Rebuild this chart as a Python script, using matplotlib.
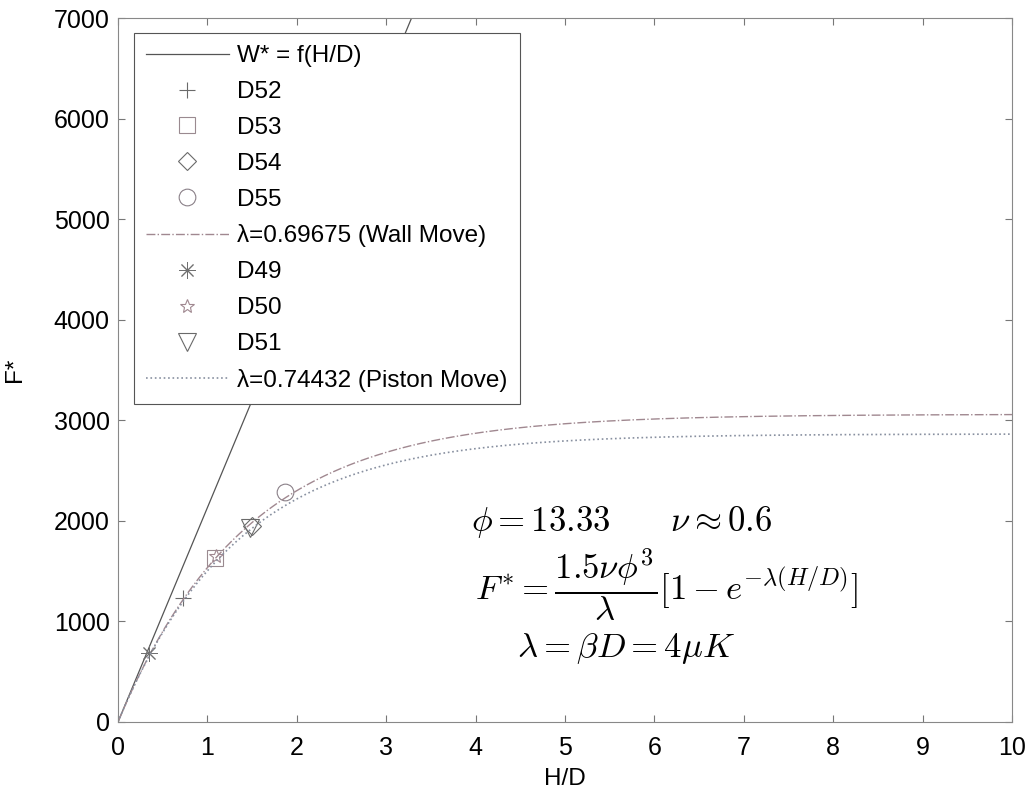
import numpy as np
import matplotlib.pyplot as plt

plt.rcParams['font.family'] = ['Liberation Sans', 'DejaVu Sans']
plt.rcParams['mathtext.fontset'] = 'cm'

# model constants
phi = 13.33
nu = 0.6
lam_wall = 0.69675
lam_piston = 0.74432

# measured points (H/D, F*)
d52_x = [0.73]
d52_y = [1230]
d53_x = [1.09]
d53_y = [1635]
d54_x = [1.50]
d54_y = [1950]
d55_x = [1.87]
d55_y = [2290]
d49_x = [0.35]
d49_y = [690]
d50_x = [1.10]
d50_y = [1650]
d51_x = [1.48]
d51_y = [1925]

k = 1.5 * nu * phi ** 3
hd = np.linspace(0, 10, 400)
w_star = k * hd
f_wall = k / lam_wall * (1 - np.exp(-lam_wall * hd))
f_piston = k / lam_piston * (1 - np.exp(-lam_piston * hd))

fig = plt.figure(figsize=(10.27, 7.9), dpi=100)
ax = fig.add_axes([0.1149, 0.0861, 0.8705, 0.8911])

gray = '#6a6a6a'
ms = 12
ax.plot(hd, w_star, '-', color='#555555', lw=0.9, label='W* = f(H/D)')
ax.plot(d52_x, d52_y, '+', color=gray, ms=ms, mew=0.8, ls='none', label='D52')
ax.plot(d53_x, d53_y, 's', color='#9a8a90', mfc='none', ms=ms, mew=0.8, ls='none', label='D53')
ax.plot(d54_x, d54_y, 'D', color=gray, mfc='none', ms=ms * 0.8, mew=0.8, ls='none', label='D54')
ax.plot(d55_x, d55_y, 'o', color='#8a8088', mfc='none', ms=ms, mew=0.8, ls='none', label='D55')
ax.plot(hd, f_wall, '-.', color='#a08890', lw=1.0, label='λ=0.69675 (Wall Move)')
ax.plot(d49_x, d49_y, marker=(8, 2, 0), color='#707070', ms=ms, mew=0.7, ls='none', label='D49')
ax.plot(d50_x, d50_y, '*', color='#a08890', mfc='none', ms=ms * 0.85, mew=0.8, ls='none', label='D50')
ax.plot(d51_x, d51_y, 'v', color=gray, mfc='none', ms=ms * 1.1, mew=0.8, ls='none', label='D51')
ax.plot(hd, f_piston, ':', color='#8890a0', lw=1.2, label='λ=0.74432 (Piston Move)')

ax.set_xlim(0, 10)
ax.set_ylim(0, 7000)
ax.set_xticks(range(0, 11))
ax.set_yticks(range(0, 7001, 1000))
ax.tick_params(direction='in', top=True, right=True, length=5, labelsize=18,
               color='#777777')
ax.tick_params(axis='x', pad=10)
ax.tick_params(axis='y', pad=6)
for s in ax.spines.values():
    s.set_color('#888888')
    s.set_linewidth(0.8)

ax.set_xlabel('H/D', fontsize=17.5, labelpad=6)
ax.set_ylabel('F*', fontsize=17.5, labelpad=20)

leg = ax.legend(loc='upper left', bbox_to_anchor=(0.0179, 0.9787), borderaxespad=0,
                fontsize=17.5, handlelength=3.4, labelspacing=0.57, fancybox=False,
                framealpha=1, edgecolor='#555555', borderpad=0.5, handletextpad=0.35)
leg.get_frame().set_linewidth(0.8)

# model equations
ax.text(5.63, 1985, r'$\phi = 13.33\qquad \nu \approx 0.6$', fontsize=25, ha='center', va='center')
ax.text(3.99, 1362, r'$F^{*} = \dfrac{1.5\nu\phi^{3}}{\lambda}[1 - e^{-\lambda(H/D)}]$',
        fontsize=25, ha='left', va='center')
ax.text(5.68, 735, r'$\lambda = \beta D = 4\mu K$', fontsize=25, ha='center', va='center')

fig.savefig('out.png', dpi=100)
